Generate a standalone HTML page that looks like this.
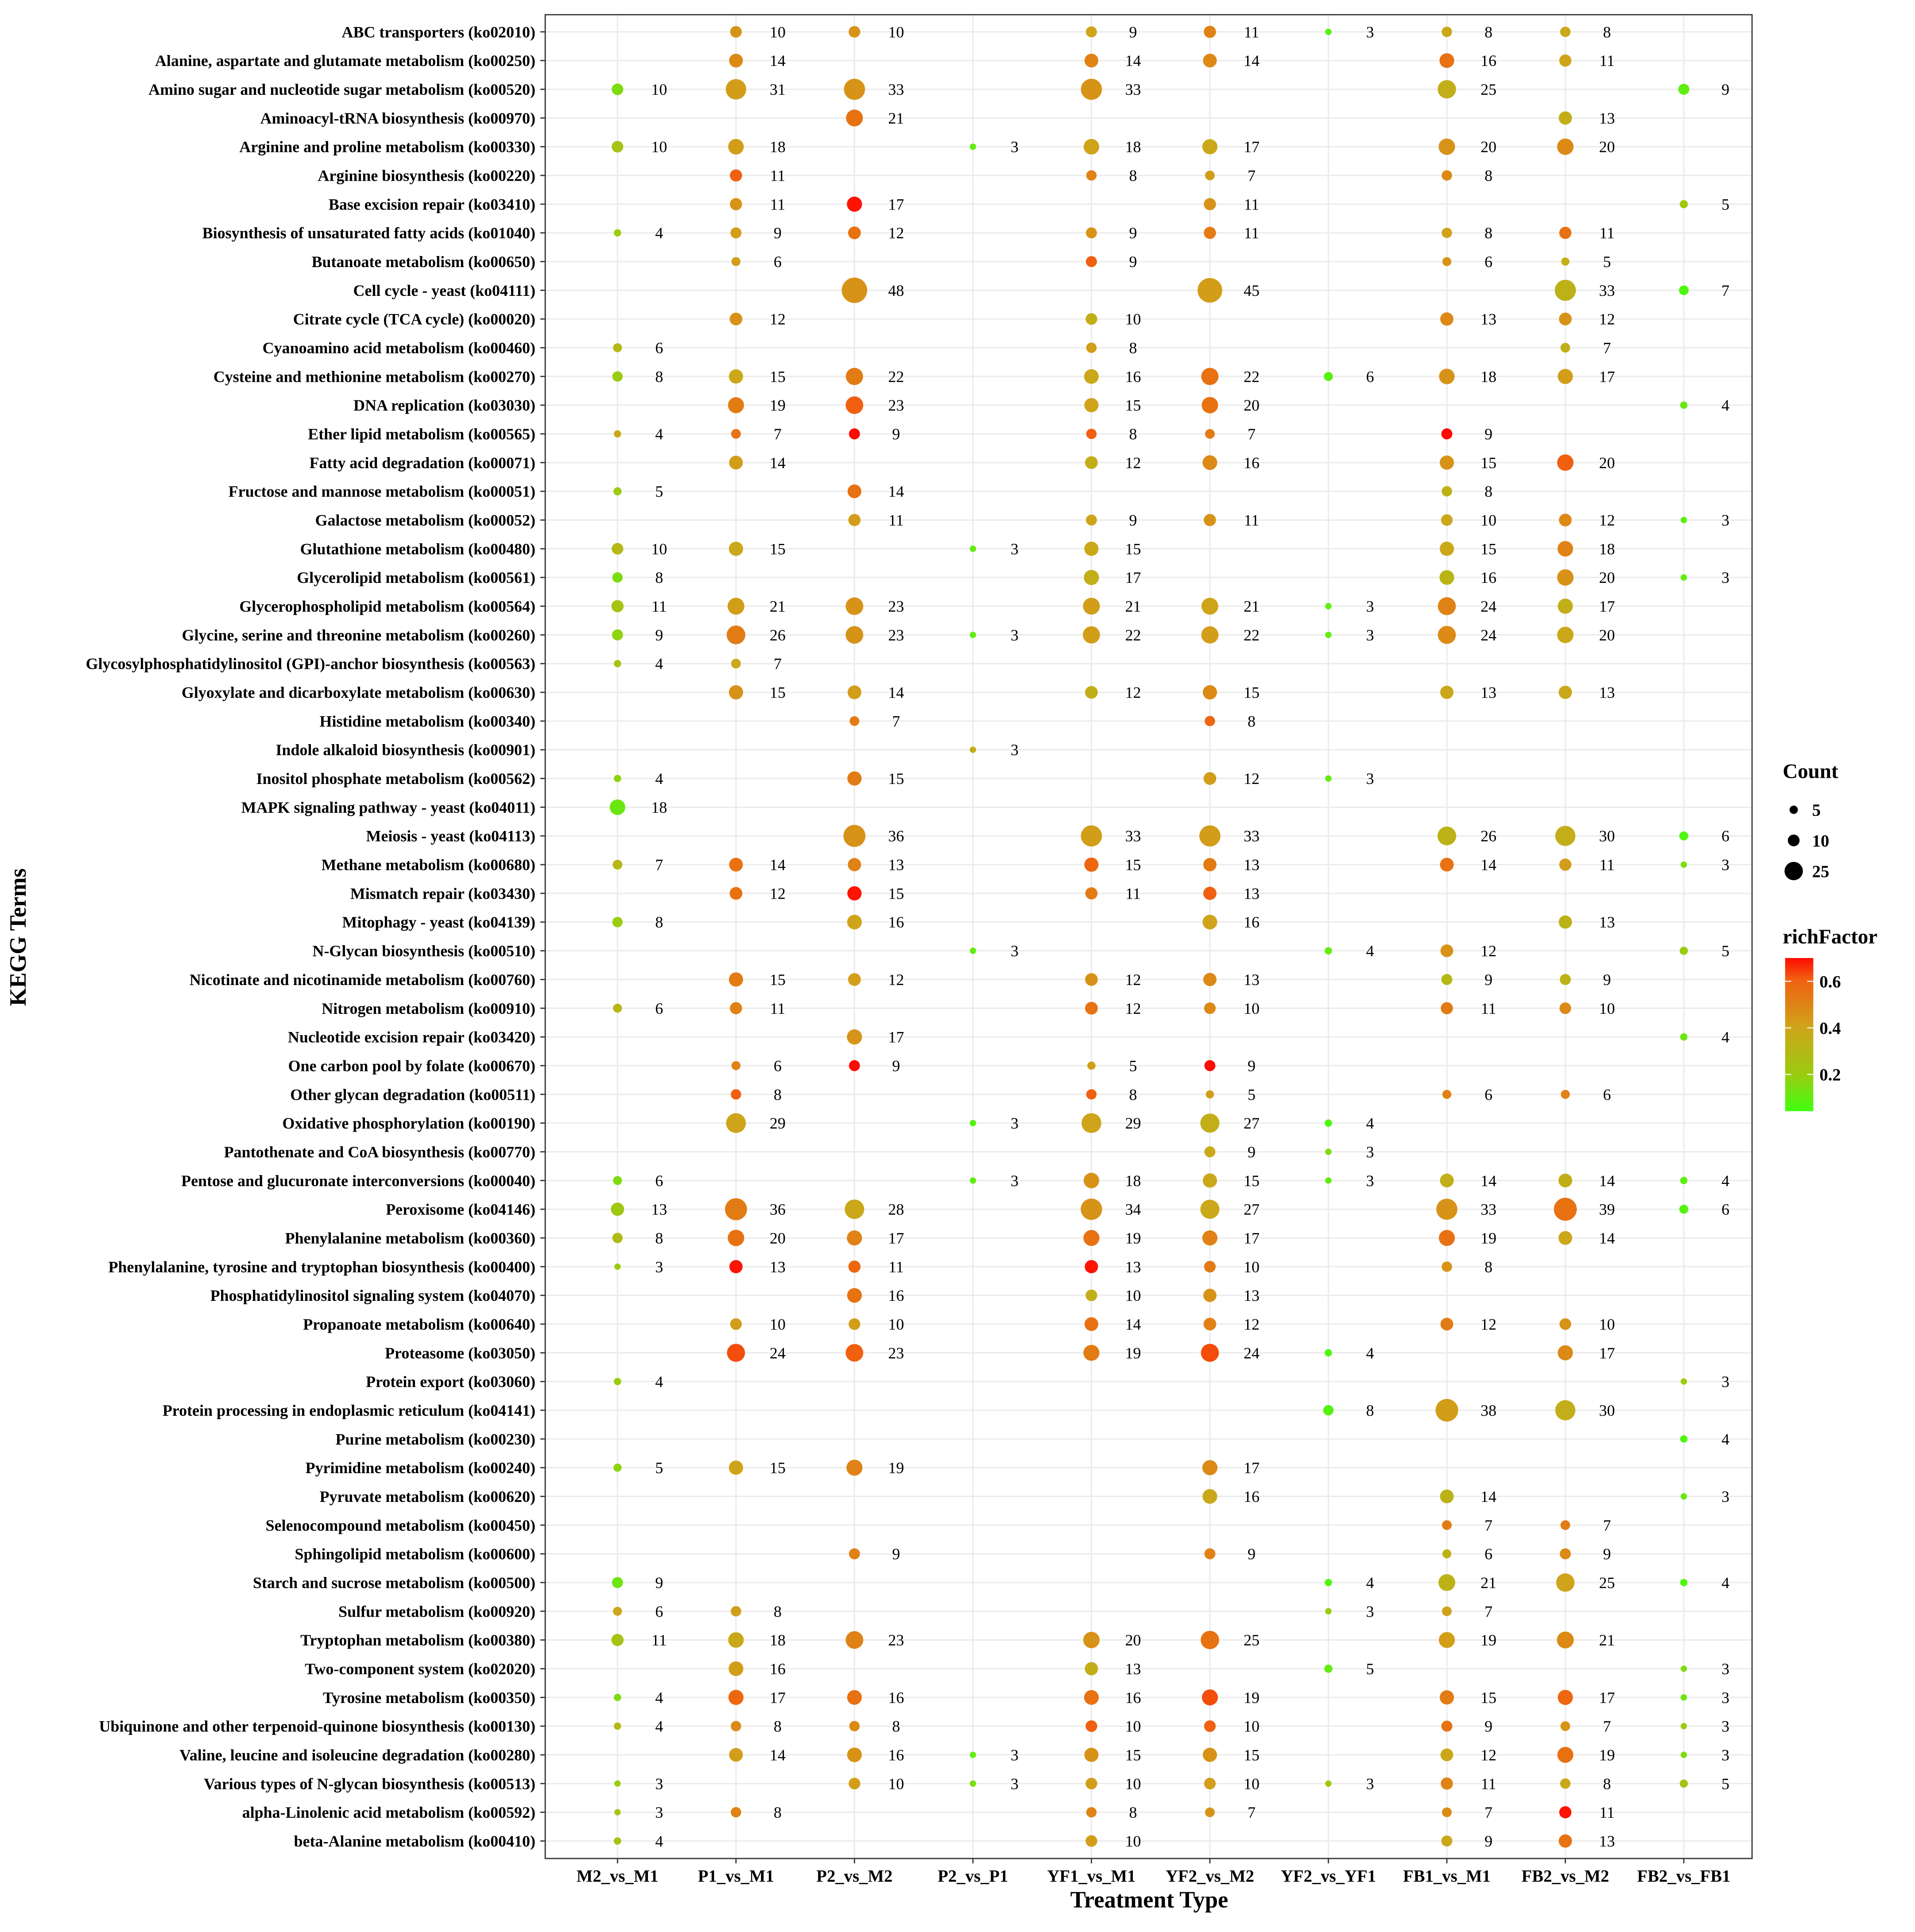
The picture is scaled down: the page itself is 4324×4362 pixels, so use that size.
<!DOCTYPE html>
<html><head><meta charset="utf-8"><style>
html,body{margin:0;padding:0;background:#fff;}
svg{display:block;}
text{font-family:"Liberation Serif",serif;}
</style></head><body>
<svg id="chart" width="4324" height="4362" viewBox="0 0 1563 1577" preserveAspectRatio="none" xmlns="http://www.w3.org/2000/svg">
<defs>
<linearGradient id="rfgrad" x1="0" y1="1" x2="0" y2="0">
<stop offset="0" stop-color="#40FF10"/>
<stop offset="0.24" stop-color="#9ACC10"/>
<stop offset="0.55" stop-color="#CFA41A"/>
<stop offset="0.86" stop-color="#F06010"/>
<stop offset="1" stop-color="#FF0A00"/>
</linearGradient>
</defs>
<rect x="445" y="12" width="985" height="1505" fill="#fff"/>
<g id="grid"></g>
<g id="marks"></g>
<rect x="445" y="12" width="985" height="1505" fill="none" stroke="#333" stroke-width="1"/>
<g id="ylabels"></g>
<g id="xlabels"></g>
<text x="938" y="1557" text-anchor="middle" font-size="19" font-weight="bold">Treatment Type</text>
<text transform="translate(21,765) rotate(-90)" text-anchor="middle" font-size="19" font-weight="bold">KEGG Terms</text>
<g>
<text x="1455" y="635" font-size="17" font-weight="bold">Count</text>
<circle cx="1464" cy="661" r="3.4" fill="#000"/>
<text x="1479" y="666" font-size="14" font-weight="bold">5</text>
<circle cx="1464" cy="686" r="4.8" fill="#000"/>
<text x="1479" y="691" font-size="14" font-weight="bold">10</text>
<circle cx="1464" cy="711" r="7.5" fill="#000"/>
<text x="1479" y="716" font-size="14" font-weight="bold">25</text>
<text x="1455" y="770" font-size="17" font-weight="bold">richFactor</text>
<rect x="1457" y="782" width="23" height="125" fill="url(#rfgrad)"/>
<g stroke="#fff" stroke-width="1" opacity="0.8">
<line x1="1457" y1="801" x2="1462" y2="801"/><line x1="1475" y1="801" x2="1480" y2="801"/>
<line x1="1457" y1="839" x2="1462" y2="839"/><line x1="1475" y1="839" x2="1480" y2="839"/>
<line x1="1457" y1="877" x2="1462" y2="877"/><line x1="1475" y1="877" x2="1480" y2="877"/>
</g>
<text x="1485" y="806" font-size="14" font-weight="bold">0.6</text>
<text x="1485" y="844" font-size="14" font-weight="bold">0.4</text>
<text x="1485" y="882" font-size="14" font-weight="bold">0.2</text>
</g>
</svg>
<script>
const groups = ["M2_vs_M1","P1_vs_M1","P2_vs_M2","P2_vs_P1","YF1_vs_M1","YF2_vs_M2","YF2_vs_YF1","FB1_vs_M1","FB2_vs_M2","FB2_vs_FB1"];
const terms = ["ABC transporters (ko02010)","Alanine, aspartate and glutamate metabolism (ko00250)","Amino sugar and nucleotide sugar metabolism (ko00520)","Aminoacyl-tRNA biosynthesis (ko00970)","Arginine and proline metabolism (ko00330)","Arginine biosynthesis (ko00220)","Base excision repair (ko03410)","Biosynthesis of unsaturated fatty acids (ko01040)","Butanoate metabolism (ko00650)","Cell cycle - yeast (ko04111)","Citrate cycle (TCA cycle) (ko00020)","Cyanoamino acid metabolism (ko00460)","Cysteine and methionine metabolism (ko00270)","DNA replication (ko03030)","Ether lipid metabolism (ko00565)","Fatty acid degradation (ko00071)","Fructose and mannose metabolism (ko00051)","Galactose metabolism (ko00052)","Glutathione metabolism (ko00480)","Glycerolipid metabolism (ko00561)","Glycerophospholipid metabolism (ko00564)","Glycine, serine and threonine metabolism (ko00260)","Glycosylphosphatidylinositol (GPI)-anchor biosynthesis (ko00563)","Glyoxylate and dicarboxylate metabolism (ko00630)","Histidine metabolism (ko00340)","Indole alkaloid biosynthesis (ko00901)","Inositol phosphate metabolism (ko00562)","MAPK signaling pathway - yeast (ko04011)","Meiosis - yeast (ko04113)","Methane metabolism (ko00680)","Mismatch repair (ko03430)","Mitophagy - yeast (ko04139)","N-Glycan biosynthesis (ko00510)","Nicotinate and nicotinamide metabolism (ko00760)","Nitrogen metabolism (ko00910)","Nucleotide excision repair (ko03420)","One carbon pool by folate (ko00670)","Other glycan degradation (ko00511)","Oxidative phosphorylation (ko00190)","Pantothenate and CoA biosynthesis (ko00770)","Pentose and glucuronate interconversions (ko00040)","Peroxisome (ko04146)","Phenylalanine metabolism (ko00360)","Phenylalanine, tyrosine and tryptophan biosynthesis (ko00400)","Phosphatidylinositol signaling system (ko04070)","Propanoate metabolism (ko00640)","Proteasome (ko03050)","Protein export (ko03060)","Protein processing in endoplasmic reticulum (ko04141)","Purine metabolism (ko00230)","Pyrimidine metabolism (ko00240)","Pyruvate metabolism (ko00620)","Selenocompound metabolism (ko00450)","Sphingolipid metabolism (ko00600)","Starch and sucrose metabolism (ko00500)","Sulfur metabolism (ko00920)","Tryptophan metabolism (ko00380)","Two-component system (ko02020)","Tyrosine metabolism (ko00350)","Ubiquinone and other terpenoid-quinone biosynthesis (ko00130)","Valine, leucine and isoleucine degradation (ko00280)","Various types of N-glycan biosynthesis (ko00513)","alpha-Linolenic acid metabolism (ko00592)","beta-Alanine metabolism (ko00410)"];
// each point: [termIndex, groupIndex, count]
const pointTerm = [0,0,0,0,0,0,0, 1,1,1,1,1, 2,2,2,2,2,2, 3,3, 4,4,4,4,4,4,4, 5,5,5,5, 6,6,6,6, 7,7,7,7,7,7,7, 8,8,8,8, 9,9,9,9, 10,10,10,10, 11,11,11, 12,12,12,12,12,12,12,12, 13,13,13,13,13, 14,14,14,14,14,14, 15,15,15,15,15, 16,16,16, 17,17,17,17,17,17, 18,18,18,18,18,18, 19,19,19,19,19, 20,20,20,20,20,20,20,20, 21,21,21,21,21,21,21,21,21, 22,22, 23,23,23,23,23,23, 24,24, 25, 26,26,26,26, 27, 28,28,28,28,28,28, 29,29,29,29,29,29,29,29, 30,30,30,30, 31,31,31,31, 32,32,32,32, 33,33,33,33,33,33, 34,34,34,34,34,34, 35,35, 36,36,36,36, 37,37,37,37,37, 38,38,38,38,38, 39,39, 40,40,40,40,40,40,40,40, 41,41,41,41,41,41,41,41, 42,42,42,42,42,42,42, 43,43,43,43,43,43, 44,44,44, 45,45,45,45,45,45, 46,46,46,46,46,46, 47,47, 48,48,48, 49, 50,50,50,50, 51,51,51, 52,52, 53,53,53,53, 54,54,54,54,54, 55,55,55,55, 56,56,56,56,56,56,56, 57,57,57,57, 58,58,58,58,58,58,58,58, 59,59,59,59,59,59,59,59, 60,60,60,60,60,60,60,60, 61,61,61,61,61,61,61,61,61, 62,62,62,62,62,62, 63,63,63,63];
const pointGroup = [1,2,4,5,6,7,8, 1,4,5,7,8, 0,1,2,4,7,9, 2,8, 0,1,3,4,5,7,8, 1,4,5,7, 1,2,5,9, 0,1,2,4,5,7,8, 1,4,7,8, 2,5,8,9, 1,4,7,8, 0,4,8, 0,1,2,4,5,6,7,8, 1,2,4,5,9, 0,1,2,4,5,7, 1,4,5,7,8, 0,2,7, 2,4,5,7,8,9, 0,1,3,4,7,8, 0,4,7,8,9, 0,1,2,4,5,6,7,8, 0,1,2,3,4,5,6,7,8, 0,1, 1,2,4,5,7,8, 2,5, 3, 0,2,5,6, 0, 2,4,5,7,8,9, 0,1,2,4,5,7,8,9, 1,2,4,5, 0,2,5,8, 3,6,7,9, 1,2,4,5,7,8, 0,1,4,5,7,8, 2,9, 1,2,4,5, 1,4,5,7,8, 1,3,4,5,6, 5,6, 0,3,4,5,6,7,8,9, 0,1,2,4,5,7,8,9, 0,1,2,4,5,7,8, 0,1,2,4,5,7, 2,4,5, 1,2,4,5,7,8, 1,2,4,5,6,8, 0,9, 6,7,8, 9, 0,1,2,5, 5,7,9, 7,8, 2,5,7,8, 0,6,7,8,9, 0,1,6,7, 0,1,2,4,5,7,8, 1,4,6,9, 0,1,2,4,5,7,8,9, 0,1,2,4,5,7,8,9, 1,2,3,4,5,7,8,9, 0,2,3,4,5,6,7,8,9, 0,1,4,5,7,8, 0,4,7,8];
const counts = [10,10,9,11,3,8,8, 14,14,14,16,11, 10,31,33,33,25,9, 21,13, 10,18,3,18,17,20,20, 11,8,7,8, 11,17,11,5, 4,9,12,9,11,8,11, 6,9,6,5, 48,45,33,7, 12,10,13,12, 6,8,7, 8,15,22,16,22,6,18,17, 19,23,15,20,4, 4,7,9,8,7,9, 14,12,16,15,20, 5,14,8, 11,9,11,10,12,3, 10,15,3,15,15,18, 8,17,16,20,3, 11,21,23,21,21,3,24,17, 9,26,23,3,22,22,3,24,20, 4,7, 15,14,12,15,13,13, 7,8, 3, 4,15,12,3, 18, 36,33,33,26,30,6, 7,14,13,15,13,14,11,3, 12,15,11,13, 8,16,16,13, 3,4,12,5, 15,12,12,13,9,9, 6,11,12,10,11,10, 17,4, 6,9,5,9, 8,8,5,6,6, 29,3,29,27,4, 9,3, 6,3,18,15,3,14,14,4, 13,36,28,34,27,33,39,6, 8,20,17,19,17,19,14, 3,13,11,13,10,8, 16,10,13, 10,10,14,12,12,10, 24,23,19,24,4,17, 4,3, 8,38,30, 4, 5,15,19,17, 16,14,3, 7,7, 9,9,6,9, 9,4,21,25,4, 6,8,3,7, 11,18,23,20,25,19,21, 16,13,5,3, 4,17,16,16,19,15,17,3, 4,8,8,10,10,9,7,3, 14,16,3,15,15,12,19,3, 3,10,3,10,10,3,11,8,5, 3,8,8,7,7,11, 4,10,9,13];
const richFactors = [.45,.45,.4,.5,.08,.38,.38, .48,.5,.48,.55,.4, .15,.42,.45,.45,.35,.1, .55,.35, .25,.42,.1,.4,.38,.45,.48, .6,.5,.42,.48, .45,.68,.45,.22, .2,.42,.55,.45,.52,.4,.55, .42,.6,.45,.35, .45,.42,.33,.07, .45,.35,.48,.45, .3,.42,.35, .2,.38,.52,.38,.55,.08,.45,.42, .52,.6,.4,.55,.12, .38,.55,.7,.6,.52,.7, .42,.35,.48,.45,.6, .2,.55,.33, .42,.4,.45,.38,.48,.1, .3,.38,.1,.38,.38,.5, .15,.35,.32,.45,.1, .25,.42,.45,.42,.4,.1,.5,.35, .18,.52,.45,.1,.42,.42,.1,.48,.38, .25,.38, .45,.42,.35,.48,.38,.38, .52,.58, .35, .18,.52,.42,.1, .12, .45,.42,.42,.33,.35,.07, .3,.55,.5,.58,.52,.55,.42,.15, .55,.68,.52,.6, .2,.4,.4,.33, .1,.1,.45,.2, .52,.42,.45,.48,.3,.33, .3,.5,.55,.48,.52,.48, .45,.12, .5,.7,.42,.7, .6,.6,.42,.5,.5, .4,.08,.4,.35,.06, .38,.15, .15,.1,.45,.38,.1,.35,.35,.1, .22,.52,.38,.45,.38,.45,.55,.08, .28,.55,.5,.55,.5,.55,.38, .2,.68,.58,.68,.52,.45, .55,.35,.45, .42,.42,.55,.5,.52,.45, .62,.6,.52,.62,.07,.48, .2,.2, .08,.42,.35, .07, .18,.4,.5,.48, .38,.33,.12, .52,.52, .5,.5,.33,.48, .12,.07,.33,.4,.07, .38,.42,.2,.4, .25,.38,.5,.45,.55,.42,.48, .42,.35,.1,.15, .15,.58,.55,.55,.62,.52,.58,.12, .3,.48,.48,.6,.6,.55,.45,.22, .42,.45,.1,.45,.45,.38,.55,.15, .2,.42,.15,.42,.42,.2,.5,.38,.25, .25,.5,.5,.45,.48,.68, .25,.42,.38,.55];

const NS = "http://www.w3.org/2000/svg";
function xScale(i){ return 504 + i*96.7; }
function yScale(i){ return 26 + i*23.44; }
function rScale(c){ return 1.5*Math.sqrt(c); }
const stops = [[0.045,[64,255,16]],[0.2,[154,204,16]],[0.4,[207,164,26]],[0.6,[240,96,16]],[0.69,[255,10,0]]];
function colorScale(v){
  if(v<=stops[0][0]) return "rgb("+stops[0][1].join(",")+")";
  for(let k=0;k<stops.length-1;k++){
    const a=stops[k],b=stops[k+1];
    if(v<=b[0]){const t=(v-a[0])/(b[0]-a[0]);
      return "rgb("+a[1].map((c,j)=>Math.round(c+(b[1][j]-c)*t)).join(",")+")";}
  }
  return "rgb("+stops[stops.length-1][1].join(",")+")";
}
function mk(tag, attrs, parent){const e=document.createElementNS(NS,tag);for(const k in attrs)e.setAttribute(k,attrs[k]);parent.appendChild(e);return e;}

const grid=document.getElementById('grid');
terms.forEach((t,i)=>{
  const l=mk('line',{x1:445,x2:1430,y1:yScale(i),y2:yScale(i),stroke:'#EBEBEB','stroke-width':1.1},grid);
  
  
  const tk=mk('line',{x1:441,x2:445,y1:yScale(i),y2:yScale(i),stroke:'#333','stroke-width':1},grid);
  
  
  const tx=mk('text',{x:437,y:yScale(i)+4.5,'text-anchor':'end','font-size':13,'font-weight':'bold'},document.getElementById('ylabels'));
  tx.textContent=t;
  
  
});
groups.forEach((g,i)=>{
  const l=mk('line',{x1:xScale(i),x2:xScale(i),y1:12,y2:1517,stroke:'#EBEBEB','stroke-width':1.1},grid);
  
  
  const tk=mk('line',{x1:xScale(i),x2:xScale(i),y1:1517,y2:1521,stroke:'#333','stroke-width':1},grid);
  
  
  const tx=mk('text',{x:xScale(i),y:1536,'text-anchor':'middle','font-size':14,'font-weight':'bold'},document.getElementById('xlabels'));
  tx.textContent=g;
  
  
});
const marks=document.getElementById('marks');
counts.forEach((c,k)=>{
  const cx=xScale(pointGroup[k]), cy=yScale(pointTerm[k]);
  const p=mk('circle',{cx:cx,cy:cy,r:rScale(c),fill:colorScale(richFactors[k])},marks);
  
  
  const t=mk('text',{x:cx+34,y:cy+4.5,'text-anchor':'middle','font-size':13},marks);
  t.textContent=c;
  
  
});
</script>
</body></html>
